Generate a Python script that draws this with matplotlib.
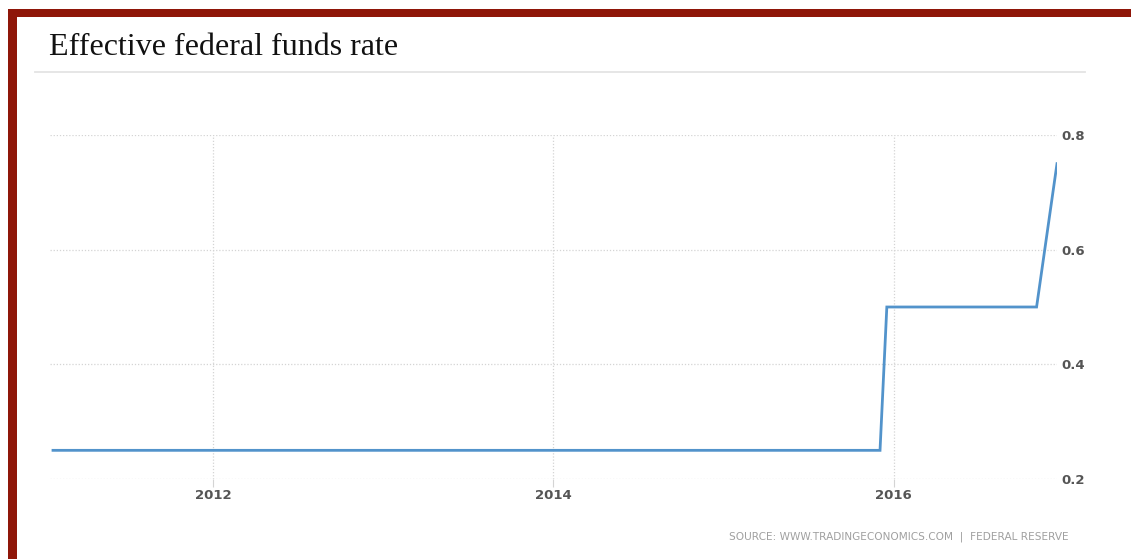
import matplotlib
matplotlib.use('Agg')
import matplotlib.pyplot as plt
from matplotlib.patches import Rectangle
from matplotlib.lines import Line2D

# decimal years, rate in percent
years = [2011.06, 2015.92, 2015.96, 2016.84, 2016.96]
rate = [0.25, 0.25, 0.50, 0.50, 0.75]
x_ticks = [2012, 2014, 2016]
y_ticks = [0.2, 0.4, 0.6, 0.8]

W, H = 1131, 559
fig = plt.figure(figsize=(W / 100, H / 100), dpi=100)
fig.patch.set_facecolor('white')

# dark red frame on top and left
red = '#8f1609'
fig.add_artist(Rectangle((8 / W, 0), 9 / W, 1 - 9 / H, transform=fig.transFigure,
                         color=red, lw=0))
fig.add_artist(Rectangle((8 / W, 1 - 17 / H), 1 - 8 / W, 8 / H, transform=fig.transFigure,
                         color=red, lw=0))

fig.text(49 / W, 1 - 55 / H, 'Effective federal funds rate', family='Liberation Serif',
         fontsize=23, color='#111111', va='baseline', ha='left')
fig.add_artist(Line2D([35 / W, 1085 / W], [1 - 72 / H, 1 - 72 / H], transform=fig.transFigure,
                      color='#e4e4e4', lw=1.3))

ax = fig.add_axes([50 / W, 80 / H, 1007 / W, 344 / H])
ax.plot(years, rate, color='#5293cb', lw=2.0, solid_joinstyle='miter')
ax.set_xlim(2011.06 - 3 / 170.5, 2016.96)
ax.set_ylim(0.2, 0.8)
ax.set_xticks(x_ticks)
ax.set_yticks(y_ticks)
ax.set_xticklabels([str(t) for t in x_ticks])
ax.set_yticklabels(['%.1f' % t for t in y_ticks])
for s in ax.spines.values():
    s.set_visible(False)
ax.yaxis.tick_right()
ax.grid(True, color='#d4d4d4', ls=(0, (1, 1.5)), lw=0.9)
ax.tick_params(axis='x', length=6, color='#d4d4d4', pad=1, labelsize=9.5, labelcolor='#555555')
ax.tick_params(axis='y', length=0, pad=3, labelsize=9.5, labelcolor='#555555')
for lab in ax.get_xticklabels() + ax.get_yticklabels():
    lab.set_fontweight('bold')
ax.set_axisbelow(True)

fig.text(1069 / W, 1 - 537 / H, 'SOURCE: WWW.TRADINGECONOMICS.COM  |  FEDERAL RESERVE',
         fontsize=7.6, color='#a0a0a0', ha='right', va='center')

fig.savefig('out.png', dpi=100)
